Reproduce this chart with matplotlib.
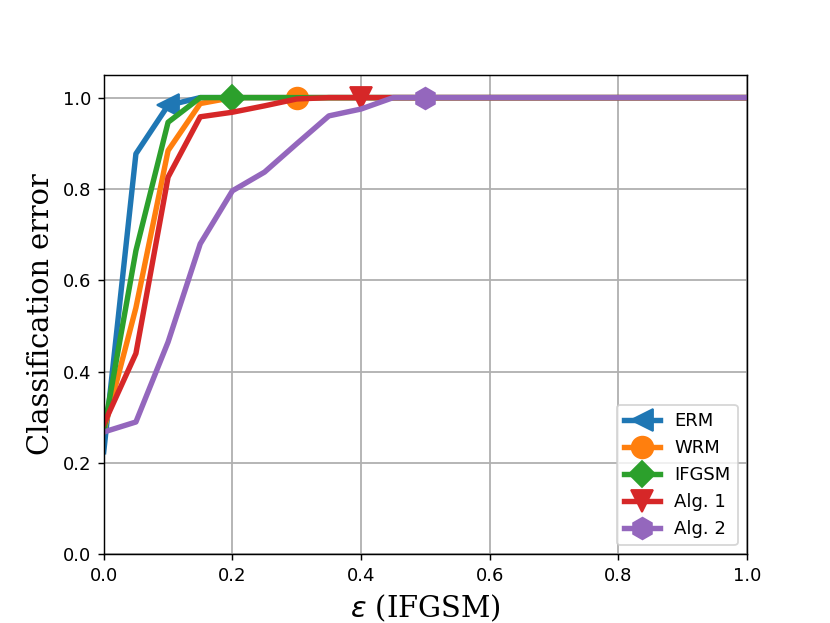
import numpy as np
import matplotlib.pyplot as plt

eps = [0.0, 0.05, 0.1, 0.15, 0.2, 0.25, 0.3, 0.35, 0.4, 0.45, 0.5,
       0.55, 0.6, 0.65, 0.7, 0.75, 0.8, 0.85, 0.9, 0.95, 1.0]

erm = [0.225, 0.877, 0.983, 1.0, 1.0, 1.0, 1.0, 1.0, 1.0, 1.0, 1.0,
       1.0, 1.0, 1.0, 1.0, 1.0, 1.0, 1.0, 1.0, 1.0, 1.0]
wrm = [0.27, 0.54, 0.884, 0.987, 1.0, 1.0, 1.0, 1.0, 1.0, 1.0, 1.0,
       1.0, 1.0, 1.0, 1.0, 1.0, 1.0, 1.0, 1.0, 1.0, 1.0]
ifgsm = [0.27, 0.665, 0.946, 1.0, 1.0, 1.0, 1.0, 1.0, 1.0, 1.0, 1.0,
         1.0, 1.0, 1.0, 1.0, 1.0, 1.0, 1.0, 1.0, 1.0, 1.0]
alg1 = [0.285, 0.44, 0.826, 0.958, 0.968, 0.982, 0.997, 1.0, 1.0, 1.0, 1.0,
        1.0, 1.0, 1.0, 1.0, 1.0, 1.0, 1.0, 1.0, 1.0, 1.0]
alg2 = [0.268, 0.29, 0.465, 0.68, 0.796, 0.837, 0.899, 0.96, 0.975, 1.0, 1.0,
        1.0, 1.0, 1.0, 1.0, 1.0, 1.0, 1.0, 1.0, 1.0, 1.0]

# (label, data, marker, index of the marker)
series = [
    ("ERM", erm, "<", 2),
    ("WRM", wrm, "o", 6),
    ("IFGSM", ifgsm, "D", 4),
    ("Alg. 1", alg1, "v", 8),
    ("Alg. 2", alg2, "h", 10),
]

fig = plt.figure(figsize=(8.3 / 1.3, 6.23 / 1.3), dpi=130)
ax = fig.add_subplot(111)

for label, vals, mk, idx in series:
    ms = 10 if mk == "D" else 12
    ax.plot(eps, vals, linewidth=3, marker=mk, markersize=ms,
            markevery=[idx], label=label)

ax.set_xlim(0, 1)
ax.set_ylim(0, 1.05)
ax.grid(True, linewidth=1)
ax.set_xlabel(r"$\epsilon$ (IFGSM)", fontsize=16, family="DejaVu Serif")
ax.set_ylabel("Classification error", fontsize=16, family="DejaVu Serif")
ax.legend(loc="lower right")

plt.savefig("out.png", dpi=130)
